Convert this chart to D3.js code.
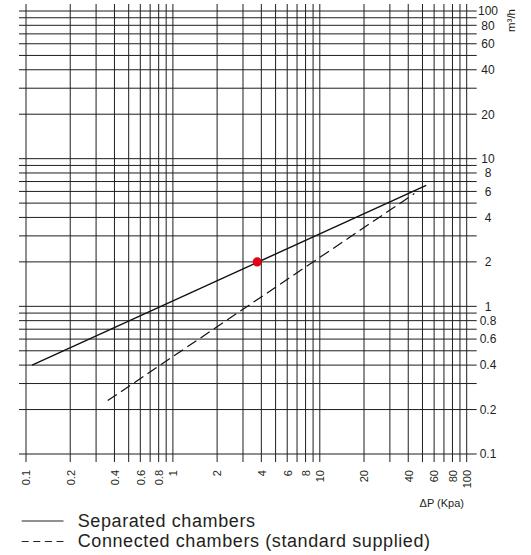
<!DOCTYPE html>
<html>
<head>
<meta charset="utf-8">
<script src="https://cdn.jsdelivr.net/npm/d3@7"></script>
<style>
  html, body { margin: 0; padding: 0; background: #fff; }
  svg { display: block; }
  text { font-family: "Liberation Sans", Arial, sans-serif; fill: #231f20; }
</style>
</head>
<body>
<svg id="chart" width="531" height="555"></svg>
<script>
// Pressure drop (kPa) vs flow (m³/h), log-log
const xLabels = [0.1, 0.2, 0.4, 0.6, 0.8, 1, 2, 4, 6, 8, 10, 20, 40, 60, 80, 100];
const yLabels = [0.1, 0.2, 0.4, 0.6, 0.8, 1, 2, 4, 6, 8, 10, 20, 40, 60, 80, 100];

// Separated chambers (solid)
const separated = [
  { dp: 0.11, q: 0.4 },
  { dp: 53, q: 6.6 }
];
// Connected chambers, standard supplied (dashed)
const connected = [
  { dp: 0.36, q: 0.23 },
  { dp: 44, q: 5.8 }
];
// Highlighted operating point
const operatingPoint = [{ dp: 3.75, q: 2 }];

const legendItems = [
  { label: "Separated chambers", dash: null },
  { label: "Connected chambers (standard supplied)", dash: "7,4.6" }
];

const svg = d3.select("#chart");

const x = d3.scaleLog().domain([0.1, 100]).range([26, 466.7]);
const y = d3.scaleLog().domain([0.1, 100]).range([454, 11]);

const gridColor = "#1e1e1e";

// vertical grid
svg.append("g").selectAll("line")
  .data(x.ticks())
  .join("line")
  .attr("x1", d => x(d)).attr("x2", d => x(d))
  .attr("y1", 4).attr("y2", 462)
  .attr("stroke", gridColor).attr("stroke-width", 1);

// horizontal grid
svg.append("g").selectAll("line")
  .data(y.ticks())
  .join("line")
  .attr("x1", 19).attr("x2", 476.7)
  .attr("y1", d => y(d)).attr("y2", d => y(d))
  .attr("stroke", gridColor).attr("stroke-width", 1);

const fmt = d => d3.format("~g")(d);

// right-hand flow labels
const yAxis = d3.axisRight(y).tickValues(yLabels).tickFormat(fmt).tickSize(0).tickPadding(0);
const gy = svg.append("g").attr("transform", "translate(488,0)").call(yAxis);
gy.select(".domain").remove();
gy.selectAll("text")
  .attr("x", 0).attr("text-anchor", "middle")
  .style("font-size", "12px").style("font-family", "'Liberation Sans', Arial, sans-serif")
  .attr("fill", "#231f20");

// bottom pressure labels (rotated)
const xAxis = d3.axisBottom(x).tickValues(xLabels).tickFormat(fmt).tickSize(0).tickPadding(0);
const gx = svg.append("g").attr("transform", "translate(0,470)").call(xAxis);
gx.select(".domain").remove();
gx.selectAll("text")
  .attr("y", 0).attr("dy", "0.35em")
  .attr("transform", "rotate(-90)")
  .attr("x", 0)
  .attr("text-anchor", "end")
  .style("font-size", "11px").style("font-family", "'Liberation Sans', Arial, sans-serif")
  .attr("fill", "#231f20");

// axis titles
svg.append("text")
  .attr("transform", "translate(511,20.5) rotate(-90)")
  .attr("dy", "0.35em")
  .attr("text-anchor", "middle")
  .style("font-size", "11.5px")
  .text("m³/h");

svg.append("text")
  .attr("x", 464).attr("y", 507)
  .attr("text-anchor", "end")
  .style("font-size", "11px")
  .text("ΔP (Kpa)");

// curves
const line = d3.line().x(d => x(d.dp)).y(d => y(d.q));

svg.append("path")
  .datum(separated)
  .attr("d", line)
  .attr("fill", "none")
  .attr("stroke", "#111")
  .attr("stroke-width", 1.4);

svg.append("path")
  .datum(connected)
  .attr("d", line)
  .attr("fill", "none")
  .attr("stroke", "#111")
  .attr("stroke-width", 1.2)
  .attr("stroke-dasharray", "11,5");

svg.selectAll("circle.op")
  .data(operatingPoint)
  .join("circle")
  .attr("class", "op")
  .attr("cx", d => x(d.dp)).attr("cy", d => y(d.q))
  .attr("r", 4.6)
  .attr("fill", "#e2001a");

// legend
const legend = svg.append("g");
const lg = legend.selectAll("g")
  .data(legendItems)
  .join("g")
  .attr("transform", (d, i) => `translate(0,${521 + i * 20.5})`);
lg.append("line")
  .attr("x1", 21.7).attr("x2", 63.5)
  .attr("y1", 0).attr("y2", 0)
  .attr("stroke", "#222").attr("stroke-width", 1)
  .attr("stroke-dasharray", d => d.dash);
lg.append("text")
  .attr("x", 77.7).attr("y", 5.5)
  .style("font-size", "18px")
  .style("letter-spacing", "0.6px")
  .text(d => d.label);
</script>
</body>
</html>
